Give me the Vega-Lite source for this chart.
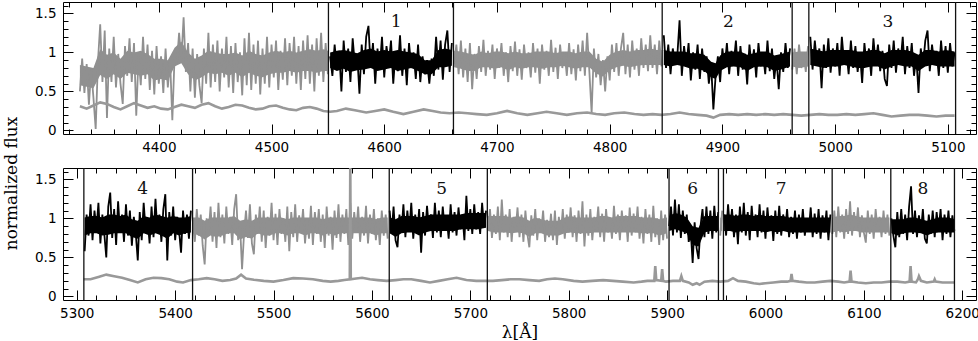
{
"$schema": "https://vega.github.io/schema/vega-lite/v6.json",
"background": "white",
"padding": {"left": 2, "top": 1, "right": 0, "bottom": 0},
"spacing": 34,
"bounds": "flush",
"resolve": {"scale": {"color": "independent"}},
"config": {
  "view": {"stroke": null},
  "axis": {"grid": false, "labelFont": "DejaVu Sans", "labelFontSize": 13.5, "labelColor": "#000", "tickColor": "#000", "domainColor": "#000", "tickWidth": 1, "domainWidth": 1, "labelOverlap": false, "labelFlush": false, "titleFont": "DejaVu Serif", "titleFontSize": 17, "titleFontWeight": "normal", "titleColor": "#000"}
},
"datasets": {
"band1": [
{"s":"a","w":4330,"lo":0.58,"hi":0.84},{"s":"a","w":4336,"lo":0.56,"hi":0.82},{"s":"a","w":4342,"lo":0.54,"hi":0.8},{"s":"a","w":4348,"lo":0.71,"hi":1.04},{"s":"a","w":4354,"lo":0.66,"hi":0.97},{"s":"a","w":4360,"lo":0.72,"hi":1.0},{"s":"a","w":4366,"lo":0.66,"hi":0.92},{"s":"a","w":4372,"lo":0.74,"hi":1.02},{"s":"a","w":4378,"lo":0.72,"hi":1.0},{"s":"a","w":4384,"lo":0.7,"hi":1.02},
{"s":"a","w":4390,"lo":0.72,"hi":0.98},{"s":"a","w":4396,"lo":0.64,"hi":0.92},{"s":"a","w":4402,"lo":0.66,"hi":0.92},{"s":"a","w":4408,"lo":0.64,"hi":0.9},{"s":"a","w":4414,"lo":0.82,"hi":1.06},{"s":"a","w":4420,"lo":0.86,"hi":1.14},{"s":"a","w":4426,"lo":0.72,"hi":1.0},{"s":"a","w":4432,"lo":0.64,"hi":0.92},{"s":"a","w":4438,"lo":0.68,"hi":0.96},{"s":"a","w":4444,"lo":0.74,"hi":1.02},
{"s":"a","w":4450,"lo":0.72,"hi":1.0},{"s":"a","w":4456,"lo":0.74,"hi":0.98},{"s":"a","w":4462,"lo":0.7,"hi":0.98},{"s":"a","w":4468,"lo":0.74,"hi":1.0},{"s":"a","w":4474,"lo":0.68,"hi":0.96},{"s":"a","w":4480,"lo":0.74,"hi":1.02},{"s":"a","w":4486,"lo":0.7,"hi":0.98},{"s":"a","w":4492,"lo":0.68,"hi":0.96},{"s":"a","w":4498,"lo":0.72,"hi":1.0},{"s":"a","w":4504,"lo":0.74,"hi":1.02},
{"s":"a","w":4510,"lo":0.74,"hi":1.0},{"s":"a","w":4516,"lo":0.76,"hi":1.02},{"s":"a","w":4522,"lo":0.74,"hi":1.0},{"s":"a","w":4528,"lo":0.76,"hi":1.02},{"s":"a","w":4534,"lo":0.76,"hi":1.04},{"s":"a","w":4540,"lo":0.74,"hi":1.02},{"s":"a","w":4546,"lo":0.76,"hi":1.04},{"s":"a","w":4550,"lo":0.76,"hi":1.02},
{"s":"b","w":4552,"lo":0.8,"hi":1.0},{"s":"b","w":4558,"lo":0.76,"hi":1.02},{"s":"b","w":4564,"lo":0.79,"hi":1.03},{"s":"b","w":4570,"lo":0.75,"hi":1.01},{"s":"b","w":4576,"lo":0.77,"hi":0.99},{"s":"b","w":4582,"lo":0.78,"hi":1.03},{"s":"b","w":4588,"lo":0.8,"hi":1.05},{"s":"b","w":4594,"lo":0.76,"hi":1.01},{"s":"b","w":4600,"lo":0.78,"hi":1.03},{"s":"b","w":4606,"lo":0.8,"hi":1.01},
{"s":"b","w":4612,"lo":0.76,"hi":1.03},{"s":"b","w":4618,"lo":0.78,"hi":1.01},{"s":"b","w":4624,"lo":0.8,"hi":1.0},{"s":"b","w":4630,"lo":0.76,"hi":0.98},{"s":"b","w":4636,"lo":0.72,"hi":0.9},{"s":"b","w":4642,"lo":0.72,"hi":0.9},{"s":"b","w":4648,"lo":0.81,"hi":1.03},{"s":"b","w":4654,"lo":0.81,"hi":1.05},{"s":"b","w":4660,"lo":0.83,"hi":1.03},
{"s":"c","w":4662,"lo":0.81,"hi":1.02},{"s":"c","w":4668,"lo":0.79,"hi":1.01},{"s":"c","w":4674,"lo":0.76,"hi":0.99},{"s":"c","w":4680,"lo":0.76,"hi":0.97},{"s":"c","w":4686,"lo":0.81,"hi":1.01},{"s":"c","w":4692,"lo":0.81,"hi":0.99},{"s":"c","w":4698,"lo":0.79,"hi":1.01},{"s":"c","w":4704,"lo":0.81,"hi":1.01},{"s":"c","w":4710,"lo":0.77,"hi":0.99},{"s":"c","w":4716,"lo":0.81,"hi":1.01},
{"s":"c","w":4722,"lo":0.79,"hi":0.99},{"s":"c","w":4728,"lo":0.81,"hi":0.99},{"s":"c","w":4734,"lo":0.81,"hi":1.01},{"s":"c","w":4740,"lo":0.79,"hi":1.01},{"s":"c","w":4746,"lo":0.81,"hi":1.01},{"s":"c","w":4752,"lo":0.81,"hi":0.99},{"s":"c","w":4758,"lo":0.83,"hi":1.01},{"s":"c","w":4764,"lo":0.81,"hi":1.01},{"s":"c","w":4770,"lo":0.79,"hi":0.99},{"s":"c","w":4776,"lo":0.81,"hi":1.01},
{"s":"c","w":4782,"lo":0.81,"hi":1.01},{"s":"c","w":4788,"lo":0.73,"hi":0.92},{"s":"c","w":4794,"lo":0.69,"hi":0.88},{"s":"c","w":4800,"lo":0.77,"hi":0.97},{"s":"c","w":4806,"lo":0.81,"hi":1.01},{"s":"c","w":4812,"lo":0.83,"hi":1.03},{"s":"c","w":4818,"lo":0.81,"hi":1.01},{"s":"c","w":4824,"lo":0.83,"hi":1.03},{"s":"c","w":4830,"lo":0.84,"hi":1.03},{"s":"c","w":4836,"lo":0.84,"hi":1.05},
{"s":"c","w":4842,"lo":0.84,"hi":1.03},{"s":"c","w":4846,"lo":0.84,"hi":1.03},
{"s":"d","w":4848,"lo":0.84,"hi":1.03},{"s":"d","w":4854,"lo":0.82,"hi":1.01},{"s":"d","w":4860,"lo":0.84,"hi":1.01},{"s":"d","w":4866,"lo":0.82,"hi":1.01},{"s":"d","w":4872,"lo":0.79,"hi":0.99},{"s":"d","w":4878,"lo":0.79,"hi":0.99},{"s":"d","w":4884,"lo":0.76,"hi":0.97},{"s":"d","w":4890,"lo":0.68,"hi":0.88},{"s":"d","w":4894,"lo":0.66,"hi":0.86},{"s":"d","w":4898,"lo":0.76,"hi":0.96},
{"s":"d","w":4904,"lo":0.81,"hi":1.01},{"s":"d","w":4910,"lo":0.82,"hi":1.01},{"s":"d","w":4916,"lo":0.81,"hi":1.01},{"s":"d","w":4922,"lo":0.76,"hi":0.97},{"s":"d","w":4928,"lo":0.81,"hi":0.99},{"s":"d","w":4934,"lo":0.82,"hi":1.01},{"s":"d","w":4940,"lo":0.81,"hi":1.01},{"s":"d","w":4946,"lo":0.76,"hi":0.96},{"s":"d","w":4952,"lo":0.78,"hi":0.98},{"s":"d","w":4960,"lo":0.82,"hi":1.01},
{"s":"e","w":4962,"lo":0.82,"hi":1.0},{"s":"e","w":4968,"lo":0.8,"hi":1.01},{"s":"e","w":4976,"lo":0.82,"hi":1.01},
{"s":"f","w":4978,"lo":0.84,"hi":1.05},{"s":"f","w":4984,"lo":0.82,"hi":1.03},{"s":"f","w":4990,"lo":0.8,"hi":1.01},{"s":"f","w":4996,"lo":0.82,"hi":1.03},{"s":"f","w":5002,"lo":0.82,"hi":1.03},{"s":"f","w":5008,"lo":0.84,"hi":1.03},{"s":"f","w":5014,"lo":0.82,"hi":1.03},{"s":"f","w":5020,"lo":0.8,"hi":1.01},{"s":"f","w":5026,"lo":0.8,"hi":1.01},{"s":"f","w":5032,"lo":0.82,"hi":1.03},
{"s":"f","w":5038,"lo":0.82,"hi":1.03},{"s":"f","w":5044,"lo":0.78,"hi":0.99},{"s":"f","w":5050,"lo":0.82,"hi":1.03},{"s":"f","w":5056,"lo":0.84,"hi":1.03},{"s":"f","w":5062,"lo":0.82,"hi":1.03},{"s":"f","w":5068,"lo":0.82,"hi":1.01},{"s":"f","w":5074,"lo":0.76,"hi":0.97},{"s":"f","w":5080,"lo":0.82,"hi":1.03},{"s":"f","w":5086,"lo":0.84,"hi":1.03},{"s":"f","w":5092,"lo":0.82,"hi":1.01},
{"s":"f","w":5098,"lo":0.82,"hi":1.03},{"s":"f","w":5106,"lo":0.82,"hi":1.01}
],
"band2": [
{"s":"g","w":5308,"lo":0.78,"hi":1.01},{"s":"g","w":5314,"lo":0.81,"hi":1.03},{"s":"g","w":5320,"lo":0.81,"hi":1.03},{"s":"g","w":5326,"lo":0.78,"hi":1.01},{"s":"g","w":5332,"lo":0.79,"hi":1.05},{"s":"g","w":5338,"lo":0.81,"hi":1.05},{"s":"g","w":5344,"lo":0.81,"hi":1.03},{"s":"g","w":5350,"lo":0.81,"hi":1.05},{"s":"g","w":5356,"lo":0.76,"hi":0.99},{"s":"g","w":5362,"lo":0.74,"hi":0.97},
{"s":"g","w":5368,"lo":0.81,"hi":1.03},{"s":"g","w":5374,"lo":0.78,"hi":1.01},{"s":"g","w":5380,"lo":0.81,"hi":1.05},{"s":"g","w":5386,"lo":0.78,"hi":1.03},{"s":"g","w":5392,"lo":0.74,"hi":1.01},{"s":"g","w":5398,"lo":0.81,"hi":1.03},{"s":"g","w":5404,"lo":0.78,"hi":1.01},{"s":"g","w":5410,"lo":0.81,"hi":1.01},{"s":"g","w":5416,"lo":0.82,"hi":1.03},
{"s":"h","w":5418,"lo":0.81,"hi":1.01},{"s":"h","w":5424,"lo":0.78,"hi":1.01},{"s":"h","w":5430,"lo":0.73,"hi":0.97},{"s":"h","w":5436,"lo":0.78,"hi":1.01},{"s":"h","w":5442,"lo":0.76,"hi":1.01},{"s":"h","w":5448,"lo":0.78,"hi":1.01},{"s":"h","w":5454,"lo":0.81,"hi":1.01},{"s":"h","w":5460,"lo":0.81,"hi":1.03},{"s":"h","w":5466,"lo":0.73,"hi":0.97},{"s":"h","w":5472,"lo":0.76,"hi":0.99},
{"s":"h","w":5478,"lo":0.74,"hi":0.97},{"s":"h","w":5484,"lo":0.81,"hi":1.01},{"s":"h","w":5490,"lo":0.78,"hi":1.01},{"s":"h","w":5496,"lo":0.78,"hi":1.01},{"s":"h","w":5502,"lo":0.81,"hi":1.01},{"s":"h","w":5508,"lo":0.81,"hi":1.01},{"s":"h","w":5514,"lo":0.78,"hi":0.99},{"s":"h","w":5520,"lo":0.81,"hi":1.01},{"s":"h","w":5526,"lo":0.81,"hi":1.01},{"s":"h","w":5532,"lo":0.78,"hi":1.01},
{"s":"h","w":5538,"lo":0.81,"hi":1.01},{"s":"h","w":5544,"lo":0.81,"hi":1.01},{"s":"h","w":5550,"lo":0.78,"hi":0.99},{"s":"h","w":5556,"lo":0.81,"hi":1.01},{"s":"h","w":5562,"lo":0.78,"hi":1.01},{"s":"h","w":5568,"lo":0.81,"hi":1.01},{"s":"h","w":5574,"lo":0.81,"hi":1.01},{"s":"h","w":5580,"lo":0.81,"hi":1.01},{"s":"h","w":5586,"lo":0.81,"hi":1.01},{"s":"h","w":5592,"lo":0.81,"hi":1.01},
{"s":"h","w":5598,"lo":0.81,"hi":1.01},{"s":"h","w":5604,"lo":0.78,"hi":0.99},{"s":"h","w":5610,"lo":0.81,"hi":1.01},{"s":"h","w":5616,"lo":0.81,"hi":1.01},
{"s":"i","w":5618,"lo":0.81,"hi":1.01},{"s":"i","w":5624,"lo":0.76,"hi":0.99},{"s":"i","w":5630,"lo":0.81,"hi":1.03},{"s":"i","w":5636,"lo":0.82,"hi":1.03},{"s":"i","w":5642,"lo":0.82,"hi":1.03},{"s":"i","w":5648,"lo":0.78,"hi":1.01},{"s":"i","w":5654,"lo":0.82,"hi":1.03},{"s":"i","w":5660,"lo":0.84,"hi":1.05},{"s":"i","w":5666,"lo":0.84,"hi":1.05},{"s":"i","w":5672,"lo":0.84,"hi":1.05},
{"s":"i","w":5678,"lo":0.84,"hi":1.05},{"s":"i","w":5684,"lo":0.84,"hi":1.05},{"s":"i","w":5690,"lo":0.86,"hi":1.05},{"s":"i","w":5696,"lo":0.86,"hi":1.07},{"s":"i","w":5702,"lo":0.86,"hi":1.07},{"s":"i","w":5708,"lo":0.86,"hi":1.07},{"s":"i","w":5716,"lo":0.88,"hi":1.07},
{"s":"j","w":5718,"lo":0.84,"hi":1.03},{"s":"j","w":5724,"lo":0.82,"hi":1.03},{"s":"j","w":5730,"lo":0.82,"hi":1.03},{"s":"j","w":5736,"lo":0.82,"hi":1.03},{"s":"j","w":5742,"lo":0.81,"hi":1.01},{"s":"j","w":5748,"lo":0.82,"hi":1.03},{"s":"j","w":5754,"lo":0.81,"hi":1.01},{"s":"j","w":5760,"lo":0.76,"hi":0.97},{"s":"j","w":5766,"lo":0.81,"hi":1.01},{"s":"j","w":5772,"lo":0.81,"hi":0.99},
{"s":"j","w":5778,"lo":0.78,"hi":0.97},{"s":"j","w":5784,"lo":0.78,"hi":0.97},{"s":"j","w":5790,"lo":0.78,"hi":0.97},{"s":"j","w":5796,"lo":0.81,"hi":1.01},{"s":"j","w":5802,"lo":0.82,"hi":1.03},{"s":"j","w":5808,"lo":0.81,"hi":1.01},{"s":"j","w":5814,"lo":0.81,"hi":1.01},{"s":"j","w":5820,"lo":0.81,"hi":1.01},{"s":"j","w":5826,"lo":0.82,"hi":1.01},{"s":"j","w":5832,"lo":0.82,"hi":1.03},
{"s":"j","w":5838,"lo":0.82,"hi":1.03},{"s":"j","w":5844,"lo":0.82,"hi":1.01},{"s":"j","w":5850,"lo":0.82,"hi":1.03},{"s":"j","w":5856,"lo":0.82,"hi":1.03},{"s":"j","w":5862,"lo":0.82,"hi":1.03},{"s":"j","w":5868,"lo":0.82,"hi":1.03},{"s":"j","w":5874,"lo":0.81,"hi":1.01},{"s":"j","w":5880,"lo":0.81,"hi":1.01},{"s":"j","w":5886,"lo":0.81,"hi":1.01},{"s":"j","w":5892,"lo":0.78,"hi":0.99},
{"s":"j","w":5900,"lo":0.81,"hi":1.01},
{"s":"k","w":5902,"lo":0.84,"hi":1.03},{"s":"k","w":5908,"lo":0.86,"hi":1.07},{"s":"k","w":5914,"lo":0.84,"hi":1.05},{"s":"k","w":5920,"lo":0.81,"hi":1.01},{"s":"k","w":5926,"lo":0.66,"hi":0.9},{"s":"k","w":5932,"lo":0.64,"hi":0.88},{"s":"k","w":5938,"lo":0.82,"hi":1.03},{"s":"k","w":5944,"lo":0.84,"hi":1.03},{"s":"k","w":5952,"lo":0.84,"hi":1.03},
{"s":"l","w":5954,"lo":0.84,"hi":1.01},{"s":"l","w":5956,"lo":0.84,"hi":1.01},
{"s":"m","w":5958,"lo":0.84,"hi":1.05},{"s":"m","w":5964,"lo":0.84,"hi":1.05},{"s":"m","w":5970,"lo":0.82,"hi":1.03},{"s":"m","w":5976,"lo":0.84,"hi":1.05},{"s":"m","w":5982,"lo":0.84,"hi":1.05},{"s":"m","w":5988,"lo":0.84,"hi":1.03},{"s":"m","w":5994,"lo":0.84,"hi":1.05},{"s":"m","w":6000,"lo":0.82,"hi":1.03},{"s":"m","w":6006,"lo":0.84,"hi":1.03},{"s":"m","w":6012,"lo":0.82,"hi":1.03},
{"s":"m","w":6018,"lo":0.84,"hi":1.03},{"s":"m","w":6024,"lo":0.82,"hi":1.01},{"s":"m","w":6030,"lo":0.82,"hi":1.01},{"s":"m","w":6036,"lo":0.82,"hi":1.01},{"s":"m","w":6042,"lo":0.82,"hi":1.01},{"s":"m","w":6048,"lo":0.82,"hi":1.01},{"s":"m","w":6054,"lo":0.82,"hi":1.01},{"s":"m","w":6060,"lo":0.82,"hi":1.01},{"s":"m","w":6066,"lo":0.82,"hi":1.01},
{"s":"n","w":6068,"lo":0.82,"hi":1.01},{"s":"n","w":6074,"lo":0.84,"hi":1.03},{"s":"n","w":6080,"lo":0.82,"hi":1.03},{"s":"n","w":6086,"lo":0.84,"hi":1.05},{"s":"n","w":6092,"lo":0.84,"hi":1.03},{"s":"n","w":6098,"lo":0.82,"hi":1.01},{"s":"n","w":6104,"lo":0.82,"hi":1.01},{"s":"n","w":6110,"lo":0.82,"hi":1.01},{"s":"n","w":6116,"lo":0.82,"hi":1.01},{"s":"n","w":6122,"lo":0.82,"hi":1.01},
{"s":"n","w":6126,"lo":0.82,"hi":1.01},
{"s":"o","w":6128,"lo":0.81,"hi":0.99},{"s":"o","w":6134,"lo":0.78,"hi":0.99},{"s":"o","w":6140,"lo":0.81,"hi":0.99},{"s":"o","w":6146,"lo":0.82,"hi":1.01},{"s":"o","w":6152,"lo":0.82,"hi":1.01},{"s":"o","w":6158,"lo":0.81,"hi":0.99},{"s":"o","w":6164,"lo":0.78,"hi":0.97},{"s":"o","w":6170,"lo":0.81,"hi":0.99},{"s":"o","w":6176,"lo":0.82,"hi":1.01},{"s":"o","w":6182,"lo":0.82,"hi":1.01},
{"s":"o","w":6186,"lo":0.82,"hi":1.01},{"s":"o","w":6192,"lo":0.82,"hi":0.99}
],
"spec1": [
{"s":"a","w":4330,"f":0.5},{"s":"a","w":4332,"f":0.92},{"s":"a","w":4334,"f":0.48},{"s":"a","w":4336,"f":0.85},{"s":"a","w":4338,"f":0.33},{"s":"a","w":4340,"f":0.78},{"s":"a","w":4342,"f":0.42},{"s":"a","w":4344,"f":0.02},{"s":"a","w":4346,"f":0.88},{"s":"a","w":4348,"f":1.36},
{"s":"a","w":4350,"f":0.62},{"s":"a","w":4352,"f":1.28},{"s":"a","w":4354,"f":0.16},{"s":"a","w":4356,"f":1.05},{"s":"a","w":4358,"f":0.62},{"s":"a","w":4360,"f":1.2},{"s":"a","w":4362,"f":0.55},{"s":"a","w":4364,"f":0.98},{"s":"a","w":4366,"f":0.6},{"s":"a","w":4368,"f":0.34},
{"s":"a","w":4370,"f":1.08},{"s":"a","w":4372,"f":0.7},{"s":"a","w":4374,"f":1.18},{"s":"a","w":4376,"f":0.62},{"s":"a","w":4378,"f":1.12},{"s":"a","w":4380,"f":0.19},{"s":"a","w":4382,"f":0.95},{"s":"a","w":4384,"f":0.58},{"s":"a","w":4386,"f":1.2},{"s":"a","w":4388,"f":0.66},
{"s":"a","w":4390,"f":1.1},{"s":"a","w":4392,"f":0.52},{"s":"a","w":4394,"f":1.02},{"s":"a","w":4396,"f":0.46},{"s":"a","w":4398,"f":1.08},{"s":"a","w":4400,"f":0.6},{"s":"a","w":4402,"f":0.95},{"s":"a","w":4404,"f":0.48},{"s":"a","w":4406,"f":1.05},{"s":"a","w":4408,"f":0.55},
{"s":"a","w":4410,"f":0.9},{"s":"a","w":4412,"f":0.13},{"s":"a","w":4414,"f":0.95},{"s":"a","w":4416,"f":0.85},{"s":"a","w":4418,"f":1.25},{"s":"a","w":4420,"f":0.9},{"s":"a","w":4422,"f":1.45},{"s":"a","w":4424,"f":0.75},{"s":"a","w":4426,"f":1.12},{"s":"a","w":4428,"f":0.5},
{"s":"a","w":4430,"f":1.05},{"s":"a","w":4432,"f":0.42},{"s":"a","w":4434,"f":0.98},{"s":"a","w":4436,"f":0.58},{"s":"a","w":4438,"f":0.35},{"s":"a","w":4440,"f":1.05},{"s":"a","w":4442,"f":0.6},{"s":"a","w":4444,"f":1.25},{"s":"a","w":4446,"f":0.55},{"s":"a","w":4448,"f":1.1},
{"s":"a","w":4450,"f":0.62},{"s":"a","w":4452,"f":1.15},{"s":"a","w":4454,"f":0.5},{"s":"a","w":4456,"f":1.05},{"s":"a","w":4458,"f":0.68},{"s":"a","w":4460,"f":1.2},{"s":"a","w":4462,"f":0.55},{"s":"a","w":4464,"f":1.08},{"s":"a","w":4466,"f":0.48},{"s":"a","w":4468,"f":1.12},
{"s":"a","w":4470,"f":0.62},{"s":"a","w":4472,"f":1.0},{"s":"a","w":4474,"f":0.45},{"s":"a","w":4476,"f":1.18},{"s":"a","w":4478,"f":0.58},{"s":"a","w":4480,"f":1.25},{"s":"a","w":4482,"f":0.52},{"s":"a","w":4484,"f":1.1},{"s":"a","w":4486,"f":0.6},{"s":"a","w":4488,"f":1.15},
{"s":"a","w":4490,"f":0.46},{"s":"a","w":4492,"f":1.05},{"s":"a","w":4494,"f":0.6},{"s":"a","w":4496,"f":1.2},{"s":"a","w":4498,"f":0.55},{"s":"a","w":4500,"f":1.1},{"s":"a","w":4502,"f":0.68},{"s":"a","w":4504,"f":1.15},{"s":"a","w":4506,"f":0.52},{"s":"a","w":4508,"f":1.02},
{"s":"a","w":4510,"f":0.65},{"s":"a","w":4512,"f":1.18},{"s":"a","w":4514,"f":0.58},{"s":"a","w":4516,"f":1.12},{"s":"a","w":4518,"f":0.7},{"s":"a","w":4520,"f":1.2},{"s":"a","w":4522,"f":0.6},{"s":"a","w":4524,"f":1.08},{"s":"a","w":4526,"f":0.52},{"s":"a","w":4528,"f":1.15},
{"s":"a","w":4530,"f":0.66},{"s":"a","w":4532,"f":1.22},{"s":"a","w":4534,"f":0.6},{"s":"a","w":4536,"f":1.1},{"s":"a","w":4538,"f":0.5},{"s":"a","w":4540,"f":1.18},{"s":"a","w":4542,"f":0.7},{"s":"a","w":4544,"f":1.25},{"s":"a","w":4546,"f":0.62},{"s":"a","w":4548,"f":1.12},{"s":"a","w":4550,"f":0.72},
{"s":"b","w":4552,"f":0.95},{"s":"b","w":4554,"f":0.7},{"s":"b","w":4556,"f":1.1},{"s":"b","w":4558,"f":0.78},{"s":"b","w":4560,"f":1.02},{"s":"b","w":4562,"f":0.5},{"s":"b","w":4564,"f":1.15},{"s":"b","w":4566,"f":0.75},{"s":"b","w":4568,"f":1.05},{"s":"b","w":4570,"f":0.62},
{"s":"b","w":4572,"f":1.18},{"s":"b","w":4574,"f":0.82},{"s":"b","w":4576,"f":0.98},{"s":"b","w":4578,"f":0.47},{"s":"b","w":4580,"f":1.1},{"s":"b","w":4582,"f":0.72},{"s":"b","w":4584,"f":1.2},{"s":"b","w":4586,"f":1.34},{"s":"b","w":4588,"f":0.8},{"s":"b","w":4590,"f":1.12},
{"s":"b","w":4592,"f":0.6},{"s":"b","w":4594,"f":1.05},{"s":"b","w":4596,"f":0.78},{"s":"b","w":4598,"f":1.2},{"s":"b","w":4600,"f":0.68},{"s":"b","w":4602,"f":1.08},{"s":"b","w":4604,"f":0.85},{"s":"b","w":4606,"f":1.15},{"s":"b","w":4608,"f":0.6},{"s":"b","w":4610,"f":1.0},
{"s":"b","w":4612,"f":0.76},{"s":"b","w":4614,"f":1.22},{"s":"b","w":4616,"f":0.7},{"s":"b","w":4618,"f":1.05},{"s":"b","w":4620,"f":0.58},{"s":"b","w":4622,"f":1.12},{"s":"b","w":4624,"f":0.8},{"s":"b","w":4626,"f":1.0},{"s":"b","w":4628,"f":0.66},{"s":"b","w":4630,"f":1.1},
{"s":"b","w":4632,"f":0.62},{"s":"b","w":4634,"f":0.95},{"s":"b","w":4636,"f":0.72},{"s":"b","w":4638,"f":0.9},{"s":"b","w":4640,"f":0.6},{"s":"b","w":4642,"f":0.92},{"s":"b","w":4644,"f":0.7},{"s":"b","w":4646,"f":1.2},{"s":"b","w":4648,"f":0.78},{"s":"b","w":4650,"f":1.15},
{"s":"b","w":4652,"f":0.65},{"s":"b","w":4654,"f":1.1},{"s":"b","w":4656,"f":1.28},{"s":"b","w":4658,"f":0.75},{"s":"b","w":4660,"f":1.12},
{"s":"c","w":4662,"f":0.85},{"s":"c","w":4664,"f":1.1},{"s":"c","w":4666,"f":0.72},{"s":"c","w":4668,"f":1.15},{"s":"c","w":4670,"f":0.68},{"s":"c","w":4672,"f":1.05},{"s":"c","w":4674,"f":0.62},{"s":"c","w":4676,"f":1.12},{"s":"c","w":4678,"f":0.53},{"s":"c","w":4680,"f":0.98},
{"s":"c","w":4682,"f":0.66},{"s":"c","w":4684,"f":1.08},{"s":"c","w":4686,"f":0.75},{"s":"c","w":4688,"f":1.16},{"s":"c","w":4690,"f":0.7},{"s":"c","w":4692,"f":1.02},{"s":"c","w":4694,"f":0.78},{"s":"c","w":4696,"f":1.1},{"s":"c","w":4698,"f":0.66},{"s":"c","w":4700,"f":1.05},
{"s":"c","w":4702,"f":0.8},{"s":"c","w":4704,"f":1.12},{"s":"c","w":4706,"f":0.7},{"s":"c","w":4708,"f":1.0},{"s":"c","w":4710,"f":0.62},{"s":"c","w":4712,"f":1.08},{"s":"c","w":4714,"f":0.76},{"s":"c","w":4716,"f":1.14},{"s":"c","w":4718,"f":0.7},{"s":"c","w":4720,"f":1.04},
{"s":"c","w":4722,"f":0.65},{"s":"c","w":4724,"f":1.1},{"s":"c","w":4726,"f":0.8},{"s":"c","w":4728,"f":1.0},{"s":"c","w":4730,"f":0.68},{"s":"c","w":4732,"f":1.12},{"s":"c","w":4734,"f":0.74},{"s":"c","w":4736,"f":1.05},{"s":"c","w":4738,"f":0.6},{"s":"c","w":4740,"f":1.1},
{"s":"c","w":4742,"f":0.78},{"s":"c","w":4744,"f":1.02},{"s":"c","w":4746,"f":0.7},{"s":"c","w":4748,"f":1.16},{"s":"c","w":4750,"f":0.75},{"s":"c","w":4752,"f":1.06},{"s":"c","w":4754,"f":0.66},{"s":"c","w":4756,"f":1.1},{"s":"c","w":4758,"f":0.8},{"s":"c","w":4760,"f":1.0},
{"s":"c","w":4762,"f":0.7},{"s":"c","w":4764,"f":1.12},{"s":"c","w":4766,"f":0.72},{"s":"c","w":4768,"f":1.04},{"s":"c","w":4770,"f":0.64},{"s":"c","w":4772,"f":1.1},{"s":"c","w":4774,"f":0.76},{"s":"c","w":4776,"f":1.15},{"s":"c","w":4778,"f":0.7},{"s":"c","w":4780,"f":1.25},
{"s":"c","w":4782,"f":0.75},{"s":"c","w":4784,"f":0.22},{"s":"c","w":4786,"f":1.05},{"s":"c","w":4788,"f":0.68},{"s":"c","w":4790,"f":0.98},{"s":"c","w":4792,"f":0.58},{"s":"c","w":4794,"f":0.9},{"s":"c","w":4796,"f":0.5},{"s":"c","w":4798,"f":0.95},{"s":"c","w":4800,"f":0.64},
{"s":"c","w":4802,"f":1.1},{"s":"c","w":4804,"f":0.75},{"s":"c","w":4806,"f":1.12},{"s":"c","w":4808,"f":0.7},{"s":"c","w":4810,"f":1.05},{"s":"c","w":4812,"f":1.25},{"s":"c","w":4814,"f":0.72},{"s":"c","w":4816,"f":1.1},{"s":"c","w":4818,"f":0.68},{"s":"c","w":4820,"f":1.15},
{"s":"c","w":4822,"f":0.78},{"s":"c","w":4824,"f":1.05},{"s":"c","w":4826,"f":0.7},{"s":"c","w":4828,"f":1.18},{"s":"c","w":4830,"f":0.8},{"s":"c","w":4832,"f":1.1},{"s":"c","w":4834,"f":0.76},{"s":"c","w":4836,"f":1.22},{"s":"c","w":4838,"f":0.8},{"s":"c","w":4840,"f":1.1},
{"s":"c","w":4842,"f":0.72},{"s":"c","w":4844,"f":1.15},{"s":"c","w":4846,"f":0.82},
{"s":"d","w":4848,"f":1.22},{"s":"d","w":4850,"f":0.8},{"s":"d","w":4852,"f":1.1},{"s":"d","w":4854,"f":0.72},{"s":"d","w":4856,"f":1.05},{"s":"d","w":4858,"f":0.85},{"s":"d","w":4860,"f":0.95},{"s":"d","w":4862,"f":1.41},{"s":"d","w":4864,"f":0.7},{"s":"d","w":4866,"f":1.08},
{"s":"d","w":4868,"f":0.82},{"s":"d","w":4870,"f":1.12},{"s":"d","w":4872,"f":0.64},{"s":"d","w":4874,"f":1.0},{"s":"d","w":4876,"f":0.78},{"s":"d","w":4878,"f":1.1},{"s":"d","w":4880,"f":0.66},{"s":"d","w":4882,"f":1.05},{"s":"d","w":4884,"f":0.75},{"s":"d","w":4886,"f":0.95},
{"s":"d","w":4888,"f":0.6},{"s":"d","w":4890,"f":0.85},{"s":"d","w":4892,"f":0.27},{"s":"d","w":4894,"f":0.7},{"s":"d","w":4896,"f":0.95},{"s":"d","w":4898,"f":0.62},{"s":"d","w":4900,"f":1.05},{"s":"d","w":4902,"f":0.8},{"s":"d","w":4904,"f":1.12},{"s":"d","w":4906,"f":0.72},
{"s":"d","w":4908,"f":1.02},{"s":"d","w":4910,"f":0.85},{"s":"d","w":4912,"f":1.15},{"s":"d","w":4914,"f":0.7},{"s":"d","w":4916,"f":1.08},{"s":"d","w":4918,"f":0.78},{"s":"d","w":4920,"f":0.98},{"s":"d","w":4922,"f":0.59},{"s":"d","w":4924,"f":1.1},{"s":"d","w":4926,"f":0.8},
{"s":"d","w":4928,"f":1.04},{"s":"d","w":4930,"f":0.68},{"s":"d","w":4932,"f":1.12},{"s":"d","w":4934,"f":0.82},{"s":"d","w":4936,"f":1.0},{"s":"d","w":4938,"f":0.72},{"s":"d","w":4940,"f":1.15},{"s":"d","w":4942,"f":0.76},{"s":"d","w":4944,"f":1.05},{"s":"d","w":4946,"f":0.66},
{"s":"d","w":4948,"f":0.92},{"s":"d","w":4950,"f":0.53},{"s":"d","w":4952,"f":1.0},{"s":"d","w":4954,"f":0.75},{"s":"d","w":4956,"f":1.12},{"s":"d","w":4958,"f":0.8},{"s":"d","w":4960,"f":1.05},
{"s":"e","w":4962,"f":0.78},{"s":"e","w":4964,"f":1.05},{"s":"e","w":4966,"f":0.72},{"s":"e","w":4968,"f":1.1},{"s":"e","w":4970,"f":0.8},{"s":"e","w":4972,"f":1.0},{"s":"e","w":4974,"f":0.75},{"s":"e","w":4976,"f":1.08},
{"s":"f","w":4978,"f":1.2},{"s":"f","w":4980,"f":0.78},{"s":"f","w":4982,"f":1.15},{"s":"f","w":4984,"f":0.85},{"s":"f","w":4986,"f":1.05},{"s":"f","w":4988,"f":0.54},{"s":"f","w":4990,"f":1.1},{"s":"f","w":4992,"f":0.8},{"s":"f","w":4994,"f":1.18},{"s":"f","w":4996,"f":0.74},
{"s":"f","w":4998,"f":1.05},{"s":"f","w":5000,"f":0.82},{"s":"f","w":5002,"f":1.12},{"s":"f","w":5004,"f":0.7},{"s":"f","w":5006,"f":1.2},{"s":"f","w":5008,"f":0.86},{"s":"f","w":5010,"f":1.02},{"s":"f","w":5012,"f":0.72},{"s":"f","w":5014,"f":1.15},{"s":"f","w":5016,"f":0.8},
{"s":"f","w":5018,"f":1.08},{"s":"f","w":5020,"f":0.75},{"s":"f","w":5022,"f":1.0},{"s":"f","w":5024,"f":0.61},{"s":"f","w":5026,"f":1.12},{"s":"f","w":5028,"f":0.82},{"s":"f","w":5030,"f":1.05},{"s":"f","w":5032,"f":0.7},{"s":"f","w":5034,"f":1.18},{"s":"f","w":5036,"f":0.84},
{"s":"f","w":5038,"f":1.1},{"s":"f","w":5040,"f":0.76},{"s":"f","w":5042,"f":1.02},{"s":"f","w":5044,"f":0.66},{"s":"f","w":5046,"f":0.57},{"s":"f","w":5048,"f":1.1},{"s":"f","w":5050,"f":0.8},{"s":"f","w":5052,"f":1.15},{"s":"f","w":5054,"f":0.74},{"s":"f","w":5056,"f":1.05},
{"s":"f","w":5058,"f":0.86},{"s":"f","w":5060,"f":1.2},{"s":"f","w":5062,"f":0.72},{"s":"f","w":5064,"f":1.08},{"s":"f","w":5066,"f":0.8},{"s":"f","w":5068,"f":1.12},{"s":"f","w":5070,"f":0.7},{"s":"f","w":5072,"f":0.95},{"s":"f","w":5074,"f":0.48},{"s":"f","w":5076,"f":1.05},
{"s":"f","w":5078,"f":0.82},{"s":"f","w":5080,"f":1.15},{"s":"f","w":5082,"f":1.28},{"s":"f","w":5084,"f":0.76},{"s":"f","w":5086,"f":1.1},{"s":"f","w":5088,"f":0.84},{"s":"f","w":5090,"f":1.02},{"s":"f","w":5092,"f":0.7},{"s":"f","w":5094,"f":1.15},{"s":"f","w":5096,"f":0.8},
{"s":"f","w":5098,"f":1.08},{"s":"f","w":5100,"f":0.74},{"s":"f","w":5102,"f":1.12},{"s":"f","w":5104,"f":0.82},{"s":"f","w":5106,"f":1.0}
],
"spec2": [
{"s":"g","w":5308,"f":0.58},{"s":"g","w":5310,"f":1.05},{"s":"g","w":5312,"f":0.78},{"s":"g","w":5314,"f":1.18},{"s":"g","w":5316,"f":0.72},{"s":"g","w":5318,"f":1.1},{"s":"g","w":5320,"f":0.85},{"s":"g","w":5322,"f":1.2},{"s":"g","w":5324,"f":0.68},{"s":"g","w":5326,"f":1.05},
{"s":"g","w":5328,"f":0.8},{"s":"g","w":5330,"f":0.5},{"s":"g","w":5332,"f":1.15},{"s":"g","w":5334,"f":1.33},{"s":"g","w":5336,"f":0.75},{"s":"g","w":5338,"f":1.12},{"s":"g","w":5340,"f":0.66},{"s":"g","w":5342,"f":1.22},{"s":"g","w":5344,"f":0.82},{"s":"g","w":5346,"f":1.05},
{"s":"g","w":5348,"f":0.7},{"s":"g","w":5350,"f":1.18},{"s":"g","w":5352,"f":0.78},{"s":"g","w":5354,"f":1.1},{"s":"g","w":5356,"f":0.65},{"s":"g","w":5358,"f":1.02},{"s":"g","w":5360,"f":0.8},{"s":"g","w":5362,"f":0.46},{"s":"g","w":5364,"f":1.08},{"s":"g","w":5366,"f":0.72},
{"s":"g","w":5368,"f":1.2},{"s":"g","w":5370,"f":0.85},{"s":"g","w":5372,"f":1.0},{"s":"g","w":5374,"f":0.68},{"s":"g","w":5376,"f":1.15},{"s":"g","w":5378,"f":0.76},{"s":"g","w":5380,"f":1.25},{"s":"g","w":5382,"f":0.82},{"s":"g","w":5384,"f":1.05},{"s":"g","w":5386,"f":0.7},
{"s":"g","w":5388,"f":1.12},{"s":"g","w":5390,"f":1.31},{"s":"g","w":5392,"f":0.46},{"s":"g","w":5394,"f":1.08},{"s":"g","w":5396,"f":0.78},{"s":"g","w":5398,"f":1.15},{"s":"g","w":5400,"f":0.72},{"s":"g","w":5402,"f":1.02},{"s":"g","w":5404,"f":0.84},{"s":"g","w":5406,"f":0.56},
{"s":"g","w":5408,"f":1.1},{"s":"g","w":5410,"f":0.8},{"s":"g","w":5412,"f":1.05},{"s":"g","w":5414,"f":0.74},{"s":"g","w":5416,"f":1.1},
{"s":"h","w":5418,"f":0.95},{"s":"h","w":5420,"f":0.7},{"s":"h","w":5422,"f":1.12},{"s":"h","w":5424,"f":0.78},{"s":"h","w":5426,"f":1.05},{"s":"h","w":5428,"f":0.65},{"s":"h","w":5430,"f":0.41},{"s":"h","w":5432,"f":1.0},{"s":"h","w":5434,"f":0.82},{"s":"h","w":5436,"f":1.15},
{"s":"h","w":5438,"f":0.7},{"s":"h","w":5440,"f":1.08},{"s":"h","w":5442,"f":0.62},{"s":"h","w":5444,"f":1.2},{"s":"h","w":5446,"f":0.76},{"s":"h","w":5448,"f":1.05},{"s":"h","w":5450,"f":0.68},{"s":"h","w":5452,"f":1.15},{"s":"h","w":5454,"f":0.8},{"s":"h","w":5456,"f":1.02},
{"s":"h","w":5458,"f":0.66},{"s":"h","w":5460,"f":1.12},{"s":"h","w":5462,"f":1.31},{"s":"h","w":5464,"f":0.72},{"s":"h","w":5466,"f":0.9},{"s":"h","w":5468,"f":0.35},{"s":"h","w":5470,"f":0.8},{"s":"h","w":5472,"f":1.1},{"s":"h","w":5474,"f":0.75},{"s":"h","w":5476,"f":1.18},
{"s":"h","w":5478,"f":0.68},{"s":"h","w":5480,"f":0.54},{"s":"h","w":5482,"f":1.05},{"s":"h","w":5484,"f":0.8},{"s":"h","w":5486,"f":1.15},{"s":"h","w":5488,"f":0.7},{"s":"h","w":5490,"f":1.1},{"s":"h","w":5492,"f":0.62},{"s":"h","w":5494,"f":1.02},{"s":"h","w":5496,"f":0.78},
{"s":"h","w":5498,"f":1.2},{"s":"h","w":5500,"f":0.72},{"s":"h","w":5502,"f":1.06},{"s":"h","w":5504,"f":0.66},{"s":"h","w":5506,"f":1.12},{"s":"h","w":5508,"f":0.8},{"s":"h","w":5510,"f":1.0},{"s":"h","w":5512,"f":0.7},{"s":"h","w":5514,"f":1.15},{"s":"h","w":5516,"f":0.58},
{"s":"h","w":5518,"f":1.08},{"s":"h","w":5520,"f":0.76},{"s":"h","w":5522,"f":1.18},{"s":"h","w":5524,"f":0.7},{"s":"h","w":5526,"f":1.04},{"s":"h","w":5528,"f":0.82},{"s":"h","w":5530,"f":1.12},{"s":"h","w":5532,"f":0.68},{"s":"h","w":5534,"f":1.0},{"s":"h","w":5536,"f":0.74},
{"s":"h","w":5538,"f":1.16},{"s":"h","w":5540,"f":0.66},{"s":"h","w":5542,"f":1.08},{"s":"h","w":5544,"f":0.8},{"s":"h","w":5546,"f":1.12},{"s":"h","w":5548,"f":0.7},{"s":"h","w":5550,"f":1.05},{"s":"h","w":5552,"f":0.62},{"s":"h","w":5554,"f":1.15},{"s":"h","w":5556,"f":0.78},
{"s":"h","w":5558,"f":1.02},{"s":"h","w":5560,"f":0.6},{"s":"h","w":5562,"f":1.1},{"s":"h","w":5564,"f":0.75},{"s":"h","w":5566,"f":1.18},{"s":"h","w":5568,"f":0.7},{"s":"h","w":5570,"f":1.05},{"s":"h","w":5572,"f":0.8},{"s":"h","w":5574,"f":1.12},{"s":"h","w":5576,"f":0.66},
{"s":"h","w":5578,"f":1.2},{"s":"h","w":5580,"f":0.74},{"s":"h","w":5582,"f":1.08},{"s":"h","w":5584,"f":0.82},{"s":"h","w":5586,"f":1.15},{"s":"h","w":5588,"f":0.7},{"s":"h","w":5590,"f":1.02},{"s":"h","w":5592,"f":0.78},{"s":"h","w":5594,"f":1.16},{"s":"h","w":5596,"f":0.68},
{"s":"h","w":5598,"f":1.05},{"s":"h","w":5600,"f":0.8},{"s":"h","w":5602,"f":1.12},{"s":"h","w":5604,"f":0.72},{"s":"h","w":5606,"f":1.0},{"s":"h","w":5608,"f":0.66},{"s":"h","w":5610,"f":1.1},{"s":"h","w":5612,"f":0.78},{"s":"h","w":5614,"f":1.05},{"s":"h","w":5616,"f":0.74},
{"s":"i","w":5618,"f":1.1},{"s":"i","w":5620,"f":0.8},{"s":"i","w":5622,"f":1.15},{"s":"i","w":5624,"f":0.72},{"s":"i","w":5626,"f":0.63},{"s":"i","w":5628,"f":1.05},{"s":"i","w":5630,"f":0.82},{"s":"i","w":5632,"f":1.18},{"s":"i","w":5634,"f":0.76},{"s":"i","w":5636,"f":1.1},
{"s":"i","w":5638,"f":0.84},{"s":"i","w":5640,"f":1.2},{"s":"i","w":5642,"f":0.74},{"s":"i","w":5644,"f":1.05},{"s":"i","w":5646,"f":0.8},{"s":"i","w":5648,"f":1.12},{"s":"i","w":5650,"f":0.56},{"s":"i","w":5652,"f":1.08},{"s":"i","w":5654,"f":0.78},{"s":"i","w":5656,"f":1.16},
{"s":"i","w":5658,"f":0.85},{"s":"i","w":5660,"f":1.05},{"s":"i","w":5662,"f":0.75},{"s":"i","w":5664,"f":1.2},{"s":"i","w":5666,"f":0.82},{"s":"i","w":5668,"f":1.1},{"s":"i","w":5670,"f":0.76},{"s":"i","w":5672,"f":1.15},{"s":"i","w":5674,"f":0.85},{"s":"i","w":5676,"f":1.02},
{"s":"i","w":5678,"f":0.74},{"s":"i","w":5680,"f":1.18},{"s":"i","w":5682,"f":0.82},{"s":"i","w":5684,"f":1.08},{"s":"i","w":5686,"f":0.78},{"s":"i","w":5688,"f":1.14},{"s":"i","w":5690,"f":0.86},{"s":"i","w":5692,"f":1.05},{"s":"i","w":5694,"f":0.72},{"s":"i","w":5696,"f":1.29},
{"s":"i","w":5698,"f":0.84},{"s":"i","w":5700,"f":1.12},{"s":"i","w":5702,"f":0.8},{"s":"i","w":5704,"f":1.18},{"s":"i","w":5706,"f":0.86},{"s":"i","w":5708,"f":1.08},{"s":"i","w":5710,"f":0.8},{"s":"i","w":5712,"f":1.2},{"s":"i","w":5714,"f":0.88},{"s":"i","w":5716,"f":1.1},
{"s":"j","w":5718,"f":0.85},{"s":"j","w":5720,"f":1.12},{"s":"j","w":5722,"f":0.75},{"s":"j","w":5724,"f":1.05},{"s":"j","w":5726,"f":0.8},{"s":"j","w":5728,"f":1.15},{"s":"j","w":5730,"f":0.72},{"s":"j","w":5732,"f":1.24},{"s":"j","w":5734,"f":0.82},{"s":"j","w":5736,"f":1.05},
{"s":"j","w":5738,"f":0.76},{"s":"j","w":5740,"f":1.12},{"s":"j","w":5742,"f":0.7},{"s":"j","w":5744,"f":1.02},{"s":"j","w":5746,"f":0.84},{"s":"j","w":5748,"f":1.14},{"s":"j","w":5750,"f":0.76},{"s":"j","w":5752,"f":1.05},{"s":"j","w":5754,"f":0.7},{"s":"j","w":5756,"f":1.1},
{"s":"j","w":5758,"f":0.8},{"s":"j","w":5760,"f":0.63},{"s":"j","w":5762,"f":1.04},{"s":"j","w":5764,"f":0.78},{"s":"j","w":5766,"f":1.12},{"s":"j","w":5768,"f":0.72},{"s":"j","w":5770,"f":1.0},{"s":"j","w":5772,"f":0.82},{"s":"j","w":5774,"f":1.1},{"s":"j","w":5776,"f":0.7},
{"s":"j","w":5778,"f":0.98},{"s":"j","w":5780,"f":0.76},{"s":"j","w":5782,"f":1.06},{"s":"j","w":5784,"f":0.72},{"s":"j","w":5786,"f":1.1},{"s":"j","w":5788,"f":0.66},{"s":"j","w":5790,"f":1.02},{"s":"j","w":5792,"f":0.8},{"s":"j","w":5794,"f":1.12},{"s":"j","w":5796,"f":0.74},
{"s":"j","w":5798,"f":1.05},{"s":"j","w":5800,"f":0.82},{"s":"j","w":5802,"f":1.14},{"s":"j","w":5804,"f":0.76},{"s":"j","w":5806,"f":1.04},{"s":"j","w":5808,"f":0.7},{"s":"j","w":5810,"f":1.1},{"s":"j","w":5812,"f":0.8},{"s":"j","w":5814,"f":1.22},{"s":"j","w":5816,"f":0.64},
{"s":"j","w":5818,"f":1.05},{"s":"j","w":5820,"f":0.78},{"s":"j","w":5822,"f":1.12},{"s":"j","w":5824,"f":0.72},{"s":"j","w":5826,"f":1.02},{"s":"j","w":5828,"f":0.84},{"s":"j","w":5830,"f":1.15},{"s":"j","w":5832,"f":0.76},{"s":"j","w":5834,"f":1.06},{"s":"j","w":5836,"f":0.7},
{"s":"j","w":5838,"f":1.12},{"s":"j","w":5840,"f":0.82},{"s":"j","w":5842,"f":1.0},{"s":"j","w":5844,"f":0.74},{"s":"j","w":5846,"f":1.16},{"s":"j","w":5848,"f":0.8},{"s":"j","w":5850,"f":1.05},{"s":"j","w":5852,"f":0.72},{"s":"j","w":5854,"f":1.1},{"s":"j","w":5856,"f":0.84},
{"s":"j","w":5858,"f":1.04},{"s":"j","w":5860,"f":0.7},{"s":"j","w":5862,"f":1.14},{"s":"j","w":5864,"f":0.78},{"s":"j","w":5866,"f":1.06},{"s":"j","w":5868,"f":0.82},{"s":"j","w":5870,"f":1.15},{"s":"j","w":5872,"f":0.74},{"s":"j","w":5874,"f":1.02},{"s":"j","w":5876,"f":0.68},
{"s":"j","w":5878,"f":1.12},{"s":"j","w":5880,"f":0.8},{"s":"j","w":5882,"f":1.05},{"s":"j","w":5884,"f":0.7},{"s":"j","w":5886,"f":1.16},{"s":"j","w":5888,"f":0.76},{"s":"j","w":5890,"f":1.0},{"s":"j","w":5892,"f":0.66},{"s":"j","w":5894,"f":1.1},{"s":"j","w":5896,"f":0.72},
{"s":"j","w":5898,"f":1.05},{"s":"j","w":5900,"f":0.74},
{"s":"k","w":5902,"f":0.9},{"s":"k","w":5904,"f":1.15},{"s":"k","w":5906,"f":0.78},{"s":"k","w":5908,"f":1.24},{"s":"k","w":5910,"f":0.82},{"s":"k","w":5912,"f":1.18},{"s":"k","w":5914,"f":0.75},{"s":"k","w":5916,"f":1.1},{"s":"k","w":5918,"f":0.8},{"s":"k","w":5920,"f":1.05},
{"s":"k","w":5922,"f":0.7},{"s":"k","w":5924,"f":0.85},{"s":"k","w":5926,"f":0.43},{"s":"k","w":5928,"f":0.95},{"s":"k","w":5930,"f":0.62},{"s":"k","w":5932,"f":0.48},{"s":"k","w":5934,"f":0.9},{"s":"k","w":5936,"f":1.12},{"s":"k","w":5938,"f":0.76},{"s":"k","w":5940,"f":1.15},
{"s":"k","w":5942,"f":0.8},{"s":"k","w":5944,"f":1.1},{"s":"k","w":5946,"f":0.74},{"s":"k","w":5948,"f":1.16},{"s":"k","w":5950,"f":0.82},{"s":"k","w":5952,"f":1.08},
{"s":"l","w":5954,"f":0.78},{"s":"l","w":5956,"f":1.1},
{"s":"m","w":5958,"f":1.05},{"s":"m","w":5960,"f":0.78},{"s":"m","w":5962,"f":1.18},{"s":"m","w":5964,"f":0.84},{"s":"m","w":5966,"f":1.12},{"s":"m","w":5968,"f":0.76},{"s":"m","w":5970,"f":1.05},{"s":"m","w":5972,"f":0.67},{"s":"m","w":5974,"f":1.15},{"s":"m","w":5976,"f":0.82},
{"s":"m","w":5978,"f":1.2},{"s":"m","w":5980,"f":0.78},{"s":"m","w":5982,"f":1.08},{"s":"m","w":5984,"f":0.72},{"s":"m","w":5986,"f":1.16},{"s":"m","w":5988,"f":0.84},{"s":"m","w":5990,"f":1.05},{"s":"m","w":5992,"f":0.76},{"s":"m","w":5994,"f":1.18},{"s":"m","w":5996,"f":0.82},
{"s":"m","w":5998,"f":1.1},{"s":"m","w":6000,"f":0.74},{"s":"m","w":6002,"f":1.14},{"s":"m","w":6004,"f":0.86},{"s":"m","w":6006,"f":1.04},{"s":"m","w":6008,"f":0.71},{"s":"m","w":6010,"f":1.1},{"s":"m","w":6012,"f":0.8},{"s":"m","w":6014,"f":1.16},{"s":"m","w":6016,"f":0.78},
{"s":"m","w":6018,"f":1.05},{"s":"m","w":6020,"f":0.84},{"s":"m","w":6022,"f":1.12},{"s":"m","w":6024,"f":0.76},{"s":"m","w":6026,"f":1.02},{"s":"m","w":6028,"f":0.8},{"s":"m","w":6030,"f":1.1},{"s":"m","w":6032,"f":0.74},{"s":"m","w":6034,"f":1.05},{"s":"m","w":6036,"f":0.82},
{"s":"m","w":6038,"f":1.12},{"s":"m","w":6040,"f":0.78},{"s":"m","w":6042,"f":1.0},{"s":"m","w":6044,"f":0.84},{"s":"m","w":6046,"f":1.14},{"s":"m","w":6048,"f":0.76},{"s":"m","w":6050,"f":1.06},{"s":"m","w":6052,"f":0.8},{"s":"m","w":6054,"f":1.12},{"s":"m","w":6056,"f":0.74},
{"s":"m","w":6058,"f":1.04},{"s":"m","w":6060,"f":0.82},{"s":"m","w":6062,"f":1.1},{"s":"m","w":6064,"f":0.72},{"s":"m","w":6066,"f":1.05},
{"s":"n","w":6068,"f":0.8},{"s":"n","w":6070,"f":1.1},{"s":"n","w":6072,"f":0.76},{"s":"n","w":6074,"f":1.15},{"s":"n","w":6076,"f":0.82},{"s":"n","w":6078,"f":1.05},{"s":"n","w":6080,"f":0.74},{"s":"n","w":6082,"f":1.12},{"s":"n","w":6084,"f":0.8},{"s":"n","w":6086,"f":1.22},
{"s":"n","w":6088,"f":0.78},{"s":"n","w":6090,"f":1.08},{"s":"n","w":6092,"f":0.84},{"s":"n","w":6094,"f":1.14},{"s":"n","w":6096,"f":0.76},{"s":"n","w":6098,"f":1.04},{"s":"n","w":6100,"f":0.82},{"s":"n","w":6102,"f":0.69},{"s":"n","w":6104,"f":1.1},{"s":"n","w":6106,"f":0.8},
{"s":"n","w":6108,"f":1.05},{"s":"n","w":6110,"f":0.74},{"s":"n","w":6112,"f":1.12},{"s":"n","w":6114,"f":0.84},{"s":"n","w":6116,"f":1.02},{"s":"n","w":6118,"f":0.76},{"s":"n","w":6120,"f":1.1},{"s":"n","w":6122,"f":0.8},{"s":"n","w":6124,"f":1.05},{"s":"n","w":6126,"f":0.78},
{"s":"o","w":6128,"f":1.0},{"s":"o","w":6130,"f":0.78},{"s":"o","w":6132,"f":0.63},{"s":"o","w":6134,"f":1.08},{"s":"o","w":6136,"f":0.76},{"s":"o","w":6138,"f":1.12},{"s":"o","w":6140,"f":0.8},{"s":"o","w":6142,"f":1.05},{"s":"o","w":6144,"f":0.72},{"s":"o","w":6146,"f":1.15},
{"s":"o","w":6148,"f":1.41},{"s":"o","w":6150,"f":0.8},{"s":"o","w":6152,"f":1.1},{"s":"o","w":6154,"f":0.76},{"s":"o","w":6156,"f":1.04},{"s":"o","w":6158,"f":0.82},{"s":"o","w":6160,"f":1.12},{"s":"o","w":6162,"f":0.74},{"s":"o","w":6164,"f":0.68},{"s":"o","w":6166,"f":1.05},
{"s":"o","w":6168,"f":0.8},{"s":"o","w":6170,"f":1.1},{"s":"o","w":6172,"f":0.76},{"s":"o","w":6174,"f":1.08},{"s":"o","w":6176,"f":0.84},{"s":"o","w":6178,"f":1.12},{"s":"o","w":6180,"f":0.72},{"s":"o","w":6182,"f":1.05},{"s":"o","w":6184,"f":0.8},{"s":"o","w":6186,"f":1.1},
{"s":"o","w":6188,"f":0.76},{"s":"o","w":6190,"f":1.04},{"s":"o","w":6192,"f":0.84}
],
"err1": [
{"w":4330,"f":0.31},{"w":4336,"f":0.28},{"w":4342,"f":0.32},{"w":4348,"f":0.36},{"w":4354,"f":0.34},{"w":4360,"f":0.3},{"w":4366,"f":0.27},{"w":4372,"f":0.31},{"w":4378,"f":0.35},{"w":4384,"f":0.32},
{"w":4390,"f":0.29},{"w":4396,"f":0.31},{"w":4402,"f":0.28},{"w":4408,"f":0.27},{"w":4414,"f":0.3},{"w":4420,"f":0.33},{"w":4426,"f":0.31},{"w":4432,"f":0.29},{"w":4438,"f":0.33},{"w":4444,"f":0.35},
{"w":4450,"f":0.31},{"w":4456,"f":0.28},{"w":4462,"f":0.3},{"w":4468,"f":0.33},{"w":4474,"f":0.32},{"w":4480,"f":0.29},{"w":4486,"f":0.27},{"w":4492,"f":0.28},{"w":4498,"f":0.31},{"w":4504,"f":0.32},
{"w":4510,"f":0.29},{"w":4516,"f":0.27},{"w":4522,"f":0.26},{"w":4528,"f":0.29},{"w":4534,"f":0.3},{"w":4540,"f":0.28},{"w":4546,"f":0.25},{"w":4552,"f":0.24},{"w":4558,"f":0.25},{"w":4566,"f":0.28},
{"w":4574,"f":0.26},{"w":4584,"f":0.23},{"w":4592,"f":0.25},{"w":4600,"f":0.27},{"w":4608,"f":0.24},{"w":4617,"f":0.21},{"w":4626,"f":0.24},{"w":4635,"f":0.27},{"w":4643,"f":0.25},{"w":4650,"f":0.23},
{"w":4658,"f":0.22},{"w":4666,"f":0.23},{"w":4674,"f":0.22},{"w":4682,"f":0.21},{"w":4691,"f":0.2},{"w":4700,"f":0.22},{"w":4709,"f":0.25},{"w":4718,"f":0.22},{"w":4727,"f":0.2},{"w":4736,"f":0.22},
{"w":4744,"f":0.24},{"w":4753,"f":0.22},{"w":4762,"f":0.2},{"w":4771,"f":0.22},{"w":4780,"f":0.23},{"w":4788,"f":0.21},{"w":4796,"f":0.2},{"w":4804,"f":0.22},{"w":4813,"f":0.23},{"w":4822,"f":0.21},
{"w":4830,"f":0.2},{"w":4838,"f":0.21},{"w":4846,"f":0.2},{"w":4854,"f":0.21},{"w":4862,"f":0.23},{"w":4870,"f":0.21},{"w":4878,"f":0.2},{"w":4886,"f":0.19},{"w":4892,"f":0.165},{"w":4898,"f":0.2},
{"w":4906,"f":0.21},{"w":4914,"f":0.2},{"w":4922,"f":0.21},{"w":4930,"f":0.2},{"w":4938,"f":0.21},{"w":4946,"f":0.2},{"w":4954,"f":0.21},{"w":4962,"f":0.2},{"w":4970,"f":0.19},{"w":4978,"f":0.2},
{"w":4986,"f":0.21},{"w":4994,"f":0.2},{"w":5002,"f":0.2},{"w":5010,"f":0.21},{"w":5018,"f":0.2},{"w":5026,"f":0.21},{"w":5034,"f":0.22},{"w":5042,"f":0.2},{"w":5050,"f":0.18},{"w":5058,"f":0.19},
{"w":5066,"f":0.2},{"w":5074,"f":0.2},{"w":5082,"f":0.19},{"w":5090,"f":0.18},{"w":5098,"f":0.19},{"w":5106,"f":0.19}
],
"err2": [
{"w":5307,"f":0.22},{"w":5314,"f":0.22},{"w":5322,"f":0.25},{"w":5330,"f":0.28},{"w":5338,"f":0.26},{"w":5346,"f":0.24},{"w":5354,"f":0.21},{"w":5362,"f":0.18},{"w":5370,"f":0.22},{"w":5378,"f":0.24},
{"w":5386,"f":0.235},{"w":5394,"f":0.22},{"w":5402,"f":0.19},{"w":5408,"f":0.18},{"w":5416,"f":0.21},{"w":5424,"f":0.22},{"w":5432,"f":0.235},{"w":5440,"f":0.22},{"w":5448,"f":0.2},{"w":5456,"f":0.21},
{"w":5462,"f":0.23},{"w":5467,"f":0.28},{"w":5472,"f":0.23},{"w":5480,"f":0.215},{"w":5490,"f":0.2},{"w":5500,"f":0.19},{"w":5510,"f":0.21},{"w":5520,"f":0.235},{"w":5530,"f":0.23},{"w":5540,"f":0.22},
{"w":5550,"f":0.2},{"w":5558,"f":0.19},{"w":5566,"f":0.2},{"w":5572,"f":0.21},{"w":5577.5,"f":0.22},{"w":5578,"f":1.7},{"w":5578.5,"f":0.22},{"w":5584,"f":0.23},{"w":5590,"f":0.24},{"w":5598,"f":0.22},
{"w":5606,"f":0.21},{"w":5615,"f":0.2},{"w":5624,"f":0.21},{"w":5632,"f":0.22},{"w":5640,"f":0.22},{"w":5650,"f":0.2},{"w":5659,"f":0.18},{"w":5668,"f":0.2},{"w":5677,"f":0.22},{"w":5686,"f":0.24},
{"w":5696,"f":0.21},{"w":5706,"f":0.2},{"w":5714,"f":0.2},{"w":5723,"f":0.2},{"w":5732,"f":0.21},{"w":5741,"f":0.22},{"w":5750,"f":0.22},{"w":5760,"f":0.21},{"w":5770,"f":0.2},{"w":5778,"f":0.22},
{"w":5786,"f":0.23},{"w":5794,"f":0.22},{"w":5805,"f":0.2},{"w":5814,"f":0.19},{"w":5824,"f":0.2},{"w":5835,"f":0.21},{"w":5845,"f":0.2},{"w":5855,"f":0.19},{"w":5866,"f":0.18},{"w":5874,"f":0.19},
{"w":5880,"f":0.2},{"w":5887,"f":0.2},{"w":5888,"f":0.39},{"w":5889,"f":0.21},{"w":5894,"f":0.2},{"w":5895,"f":0.35},{"w":5896,"f":0.2},{"w":5899,"f":0.19},{"w":5906,"f":0.2},{"w":5913,"f":0.2},
{"w":5914.5,"f":0.26},{"w":5916,"f":0.2},{"w":5922,"f":0.18},{"w":5926,"f":0.15},{"w":5930,"f":0.17},{"w":5933,"f":0.15},{"w":5938,"f":0.19},{"w":5946,"f":0.2},{"w":5954,"f":0.19},{"w":5962,"f":0.2},
{"w":5967,"f":0.235},{"w":5972,"f":0.2},{"w":5980,"f":0.19},{"w":5988,"f":0.17},{"w":5994,"f":0.16},{"w":6000,"f":0.17},{"w":6008,"f":0.18},{"w":6016,"f":0.19},{"w":6022,"f":0.19},{"w":6025.5,"f":0.2},
{"w":6026.5,"f":0.29},{"w":6027.5,"f":0.2},{"w":6034,"f":0.19},{"w":6042,"f":0.18},{"w":6050,"f":0.18},{"w":6058,"f":0.19},{"w":6066,"f":0.2},{"w":6074,"f":0.19},{"w":6080,"f":0.18},{"w":6085.5,"f":0.19},
{"w":6086.5,"f":0.33},{"w":6087.5,"f":0.19},{"w":6094,"f":0.18},{"w":6102,"f":0.17},{"w":6110,"f":0.18},{"w":6118,"f":0.18},{"w":6126,"f":0.19},{"w":6134,"f":0.19},{"w":6142,"f":0.18},{"w":6146.5,"f":0.19},
{"w":6147.5,"f":0.39},{"w":6148.5,"f":0.19},{"w":6153,"f":0.18},{"w":6155,"f":0.22},{"w":6156,"f":0.26},{"w":6158,"f":0.2},{"w":6164,"f":0.18},{"w":6171,"f":0.19},{"w":6172,"f":0.22},{"w":6173,"f":0.19},
{"w":6180,"f":0.18},{"w":6186,"f":0.18},{"w":6192,"f":0.18}
],
"lab1": [{"w":4610.6,"f":1.39,"t":"1"},{"w":4905.4,"f":1.39,"t":"2"},{"w":5046.9,"f":1.39,"t":"3"}],
"lab2": [{"w":5367,"f":1.37,"t":"4"},{"w":5671,"f":1.37,"t":"5"},{"w":5926,"f":1.37,"t":"6"},{"w":6016,"f":1.37,"t":"7"},{"w":6160,"f":1.37,"t":"8"}],
"sep1": [{"w":4550.5},{"w":4661.4},{"w":4846.6},{"w":4961.9},{"w":4976.7},{"w":5106.9}],
"sep2": [{"w":5307.2},{"w":5417.7},{"w":5617.6},{"w":5717.3},{"w":5902},{"w":5952.2},{"w":5957.3},{"w":6067.8},{"w":6127.4},{"w":6192.1}]
},
"vconcat": [
{
 "width": 913, "height": 132,
 "resolve": {"axis": {"x": "independent", "y": "independent"}},
 "layer": [
  {"data": {"name": "band1"}, "mark": {"type": "area", "line": false, "clip": true},
   "encoding": {
    "x": {"field": "w", "type": "quantitative", "scale": {"domain": [4315, 5125], "nice": false, "zero": false}, "axis": null},
    "y": {"field": "lo", "type": "quantitative", "stack": null, "scale": {"domain": [-0.045, 1.645], "nice": false, "zero": false}, "axis": null},
    "y2": {"field": "hi"},
    "color": {"field": "s", "type": "nominal", "legend": null,
              "scale": {"domain": ["a","b","c","d","e","f"], "range": ["#909090","#000000","#909090","#000000","#909090","#000000"]}}
   }},
  {"data": {"name": "spec1"}, "mark": {"type": "line", "strokeWidth": 1.8, "strokeJoin": "bevel", "clip": true},
   "encoding": {
    "x": {"field": "w", "type": "quantitative", "scale": {"domain": [4315, 5125], "nice": false, "zero": false},
          "axis": {"orient": "bottom", "values": [4400,4500,4600,4700,4800,4900,5000,5100], "format": "d", "tickSize": -10, "labelPadding": 16, "title": null, "domain": true}},
    "y": {"field": "f", "type": "quantitative", "scale": {"domain": [-0.045, 1.645], "nice": false, "zero": false},
          "axis": {"orient": "left", "values": [0, 0.5, 1, 1.5], "format": "~g", "tickSize": -10, "labelPadding": 17, "domain": true,
                   "title": "normalized flux", "titleX": -47, "titleY": 181, "titleAngle": 270, "titleBaseline": "alphabetic", "titleAlign": "center"}},
    "color": {"field": "s", "type": "nominal", "legend": null,
              "scale": {"domain": ["a","b","c","d","e","f"], "range": ["#909090","#000000","#909090","#000000","#909090","#000000"]}}
   }},
  {"data": {"name": "err1"}, "mark": {"type": "line", "strokeWidth": 2.6, "color": "#999999", "clip": true},
   "encoding": {
    "x": {"field": "w", "type": "quantitative", "scale": {"domain": [4315, 5125], "nice": false, "zero": false},
          "axis": {"orient": "bottom", "values": [4320,4340,4360,4380,4400,4420,4440,4460,4480,4500,4520,4540,4560,4580,4600,4620,4640,4660,4680,4700,4720,4740,4760,4780,4800,4820,4840,4860,4880,4900,4920,4940,4960,4980,5000,5020,5040,5060,5080,5100,5120], "tickSize": -5, "labels": false, "domain": false, "title": null}},
    "y": {"field": "f", "type": "quantitative", "scale": {"domain": [-0.045, 1.645], "nice": false, "zero": false},
          "axis": {"orient": "left", "values": [0,0.1,0.2,0.3,0.4,0.5,0.6,0.7,0.8,0.9,1,1.1,1.2,1.3,1.4,1.5,1.6], "tickSize": -5, "labels": false, "domain": false, "title": null}}
   }},
  {"data": {"name": "sep1"}, "mark": {"type": "rule", "color": "#111111", "strokeWidth": 1.3},
   "encoding": {
    "x": {"field": "w", "type": "quantitative", "scale": {"domain": [4315, 5125], "nice": false, "zero": false},
          "axis": {"orient": "top", "values": [4320,4340,4360,4380,4400,4420,4440,4460,4480,4500,4520,4540,4560,4580,4600,4620,4640,4660,4680,4700,4720,4740,4760,4780,4800,4820,4840,4860,4880,4900,4920,4940,4960,4980,5000,5020,5040,5060,5080,5100,5120], "tickSize": -5, "labels": false, "domain": false, "title": null}},
    "y": {"datum": -0.045, "type": "quantitative", "scale": {"domain": [-0.045, 1.645], "nice": false, "zero": false},
          "axis": {"orient": "right", "values": [0,0.1,0.2,0.3,0.4,0.5,0.6,0.7,0.8,0.9,1,1.1,1.2,1.3,1.4,1.5,1.6], "tickSize": -5, "labels": false, "domain": false, "title": null}},
    "y2": {"datum": 1.645}
   }},
  {"data": {"name": "lab1"}, "mark": {"type": "text", "font": "DejaVu Serif", "fontSize": 17, "color": "#111111", "baseline": "middle"},
   "encoding": {
    "x": {"field": "w", "type": "quantitative", "scale": {"domain": [4315, 5125], "nice": false, "zero": false},
          "axis": {"orient": "top", "values": [4400,4500,4600,4700,4800,4900,5000,5100], "tickSize": -10, "labels": false, "domain": true, "title": null}},
    "y": {"field": "f", "type": "quantitative", "scale": {"domain": [-0.045, 1.645], "nice": false, "zero": false},
          "axis": {"orient": "right", "values": [0, 0.5, 1, 1.5], "tickSize": -10, "labels": false, "domain": true, "title": null}},
    "text": {"field": "t"}
   }}
 ]
},
{
 "width": 913, "height": 132,
 "resolve": {"axis": {"x": "independent", "y": "independent"}},
 "layer": [
  {"data": {"name": "band2"}, "mark": {"type": "area", "line": false, "clip": true},
   "encoding": {
    "x": {"field": "w", "type": "quantitative", "scale": {"domain": [5286, 6214], "nice": false, "zero": false}, "axis": null},
    "y": {"field": "lo", "type": "quantitative", "stack": null, "scale": {"domain": [-0.045, 1.645], "nice": false, "zero": false}, "axis": null},
    "y2": {"field": "hi"},
    "color": {"field": "s", "type": "nominal", "legend": null,
              "scale": {"domain": ["g","h","i","j","k","l","m","n","o"], "range": ["#000000","#909090","#000000","#909090","#000000","#909090","#000000","#909090","#000000"]}}
   }},
  {"data": {"name": "spec2"}, "mark": {"type": "line", "strokeWidth": 1.8, "strokeJoin": "bevel", "clip": true},
   "encoding": {
    "x": {"field": "w", "type": "quantitative", "scale": {"domain": [5286, 6214], "nice": false, "zero": false},
          "axis": {"orient": "bottom", "values": [5300,5400,5500,5600,5700,5800,5900,6000,6100,6200], "format": "d", "tickSize": -10, "labelPadding": 16, "domain": true,
                   "title": "λ[Å]", "titleBaseline": "alphabetic", "titleY": 37}},
    "y": {"field": "f", "type": "quantitative", "scale": {"domain": [-0.045, 1.645], "nice": false, "zero": false},
          "axis": {"orient": "left", "values": [0, 0.5, 1, 1.5], "format": "~g", "tickSize": -10, "labelPadding": 17, "domain": true, "title": null}},
    "color": {"field": "s", "type": "nominal", "legend": null,
              "scale": {"domain": ["g","h","i","j","k","l","m","n","o"], "range": ["#000000","#909090","#000000","#909090","#000000","#909090","#000000","#909090","#000000"]}}
   }},
  {"data": {"name": "err2"}, "mark": {"type": "line", "strokeWidth": 2.6, "color": "#999999", "clip": true},
   "encoding": {
    "x": {"field": "w", "type": "quantitative", "scale": {"domain": [5286, 6214], "nice": false, "zero": false},
          "axis": {"orient": "bottom", "values": [5300,5320,5340,5360,5380,5400,5420,5440,5460,5480,5500,5520,5540,5560,5580,5600,5620,5640,5660,5680,5700,5720,5740,5760,5780,5800,5820,5840,5860,5880,5900,5920,5940,5960,5980,6000,6020,6040,6060,6080,6100,6120,6140,6160,6180,6200], "tickSize": -5, "labels": false, "domain": false, "title": null}},
    "y": {"field": "f", "type": "quantitative", "scale": {"domain": [-0.045, 1.645], "nice": false, "zero": false},
          "axis": {"orient": "left", "values": [0,0.1,0.2,0.3,0.4,0.5,0.6,0.7,0.8,0.9,1,1.1,1.2,1.3,1.4,1.5,1.6], "tickSize": -5, "labels": false, "domain": false, "title": null}}
   }},
  {"data": {"name": "sep2"}, "mark": {"type": "rule", "color": "#111111", "strokeWidth": 1.3},
   "encoding": {
    "x": {"field": "w", "type": "quantitative", "scale": {"domain": [5286, 6214], "nice": false, "zero": false},
          "axis": {"orient": "top", "values": [5300,5320,5340,5360,5380,5400,5420,5440,5460,5480,5500,5520,5540,5560,5580,5600,5620,5640,5660,5680,5700,5720,5740,5760,5780,5800,5820,5840,5860,5880,5900,5920,5940,5960,5980,6000,6020,6040,6060,6080,6100,6120,6140,6160,6180,6200], "tickSize": -5, "labels": false, "domain": false, "title": null}},
    "y": {"datum": -0.045, "type": "quantitative", "scale": {"domain": [-0.045, 1.645], "nice": false, "zero": false},
          "axis": {"orient": "right", "values": [0,0.1,0.2,0.3,0.4,0.5,0.6,0.7,0.8,0.9,1,1.1,1.2,1.3,1.4,1.5,1.6], "tickSize": -5, "labels": false, "domain": false, "title": null}},
    "y2": {"datum": 1.645}
   }},
  {"data": {"name": "lab2"}, "mark": {"type": "text", "font": "DejaVu Serif", "fontSize": 17, "color": "#111111", "baseline": "middle"},
   "encoding": {
    "x": {"field": "w", "type": "quantitative", "scale": {"domain": [5286, 6214], "nice": false, "zero": false},
          "axis": {"orient": "top", "values": [5300,5400,5500,5600,5700,5800,5900,6000,6100,6200], "tickSize": -10, "labels": false, "domain": true, "title": null}},
    "y": {"field": "f", "type": "quantitative", "scale": {"domain": [-0.045, 1.645], "nice": false, "zero": false},
          "axis": {"orient": "right", "values": [0, 0.5, 1, 1.5], "tickSize": -10, "labels": false, "domain": true, "title": null}},
    "text": {"field": "t"}
   }}
 ]
}
]
}
